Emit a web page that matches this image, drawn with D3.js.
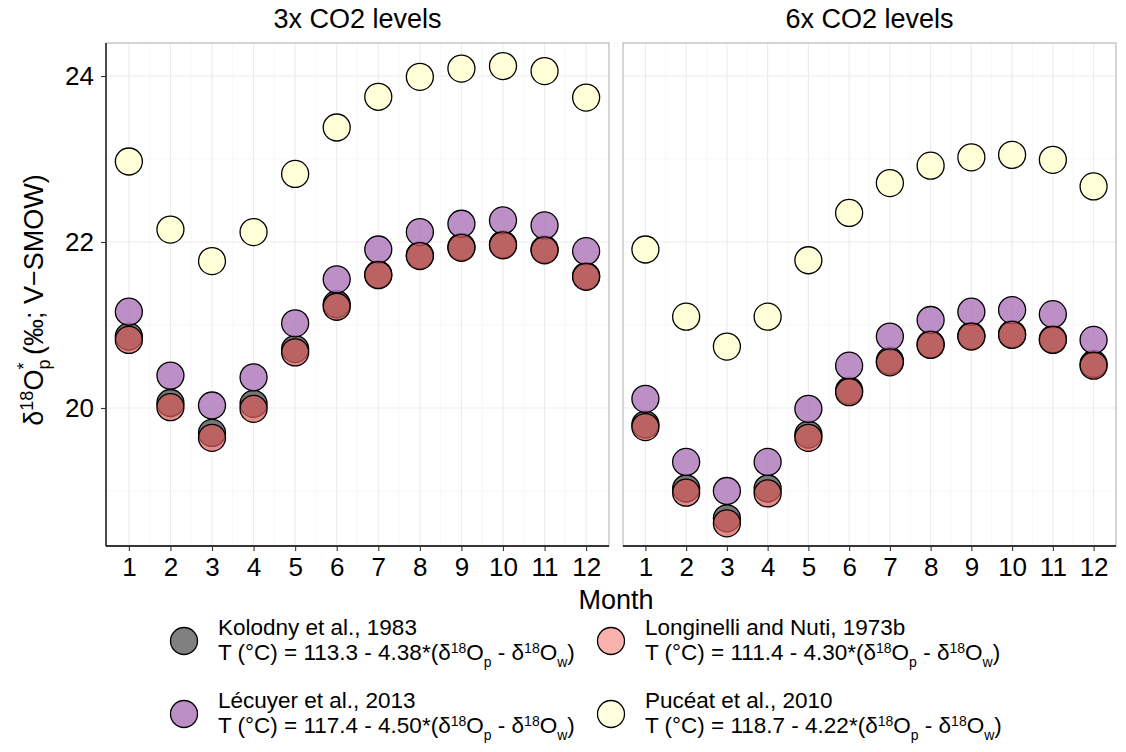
<!DOCTYPE html>
<html>
<head>
<meta charset="utf-8">
<script src="https://cdn.jsdelivr.net/npm/d3@7"></script>
<style>
  body { margin: 0; background: #fff; }
  text { font-family: Arial, "Liberation Sans", sans-serif; fill: #000; }
  .grid-major { stroke: #ebebeb; stroke-width: 1.1; }
  .grid-minor { stroke: #f2f2f2; stroke-width: 0.6; }
</style>
</head>
<body>
<svg id="chart" width="1126" height="752"></svg>
<script>
var months = [1, 2, 3, 4, 5, 6, 7, 8, 9, 10, 11, 12]
var panels = ["3x CO2 levels", "6x CO2 levels"]
var yTicks = [20, 22, 24]
var yMinor = [19, 21, 23]

var kolodny3    = [20.86, 20.06, 19.70, 20.05, 20.71, 21.25, 21.61, 21.84, 21.94, 21.97, 21.91, 21.59]
var lecuyer3    = [21.16, 20.39, 20.03, 20.37, 21.02, 21.55, 21.91, 22.12, 22.22, 22.26, 22.20, 21.89]
var longinelli3 = [20.82, 20.01, 19.64, 19.99, 20.67, 21.22, 21.60, 21.83, 21.93, 21.96, 21.90, 21.58]
var puceat3     = [22.97, 22.15, 21.77, 22.12, 22.82, 23.38, 23.75, 23.99, 24.09, 24.12, 24.06, 23.74]

var kolodny6    = [19.80, 19.03, 18.67, 19.03, 19.68, 20.21, 20.57, 20.77, 20.87, 20.89, 20.83, 20.53]
var lecuyer6    = [20.11, 19.35, 19.00, 19.35, 19.99, 20.51, 20.86, 21.06, 21.16, 21.18, 21.13, 20.82]
var longinelli6 = [19.77, 18.98, 18.61, 18.97, 19.64, 20.19, 20.55, 20.76, 20.86, 20.88, 20.82, 20.51]
var puceat6     = [21.91, 21.10, 20.74, 21.10, 21.78, 22.35, 22.71, 22.92, 23.02, 23.05, 22.99, 22.67]

var seriesNames = ["Kolodny et al., 1983", "Lécuyer et al., 2013", "Longinelli and Nuti, 1973b", "Pucéat et al., 2010"]
var seriesEq = [["113.3", "4.38"], ["117.4", "4.50"], ["111.4", "4.30"], ["118.7", "4.22"]]
var seriesData = [[kolodny3, kolodny6], [lecuyer3, lecuyer6], [longinelli3, longinelli6], [puceat3, puceat6]]
// plot fill / opacity, and the lighter key colour shown in the legend
var seriesFill = ["#5f5f5f", "#b07cbc", "#d95a5a", "#ffffd8"]
var seriesOpacity = [0.85, 0.85, 0.7, 1]
var seriesKey = ["#808080", "#bb8fc5", "#f9b1ae", "#ffffe0"]

var svg = d3.select("#chart")
var ptR = 13.5
var plotTop = 43, plotBottom = 546
var panelX = [[106, 609], [623, 1116]]

var y = d3.scaleLinear().domain([18.337, 24.398]).range([plotBottom, plotTop])

panels.forEach(function (title, pi) {
  var x = d3.scaleLinear().domain([0.45, 12.55]).range(panelX[pi])
  var g = svg.append("g")

  g.selectAll(".xminor").data(d3.range(1.5, 12.5, 1)).join("line")
    .attr("class", "grid-minor")
    .attr("x1", d => x(d)).attr("x2", d => x(d)).attr("y1", plotTop).attr("y2", plotBottom)
  g.selectAll(".yminor").data(yMinor).join("line")
    .attr("class", "grid-minor")
    .attr("x1", panelX[pi][0]).attr("x2", panelX[pi][1]).attr("y1", d => y(d)).attr("y2", d => y(d))
  g.selectAll(".xmajor").data(months).join("line")
    .attr("class", "grid-major")
    .attr("x1", d => x(d)).attr("x2", d => x(d)).attr("y1", plotTop).attr("y2", plotBottom)
  g.selectAll(".ymajor").data(yTicks).join("line")
    .attr("class", "grid-major")
    .attr("x1", panelX[pi][0]).attr("x2", panelX[pi][1]).attr("y1", d => y(d)).attr("y2", d => y(d))

  g.append("rect")
    .attr("x", panelX[pi][0]).attr("y", plotTop)
    .attr("width", panelX[pi][1] - panelX[pi][0]).attr("height", plotBottom - plotTop)
    .attr("fill", "none").attr("stroke", "#b3b3b3").attr("stroke-width", 1.1)

  seriesData.forEach(function (sd, si) {
    g.append("g").selectAll("circle")
      .data(months.map((m, i) => ({ m: m, v: sd[pi][i] })))
      .join("circle")
      .attr("cx", d => x(d.m))
      .attr("cy", d => y(d.v))
      .attr("r", ptR)
      .attr("fill", seriesFill[si])
      .attr("fill-opacity", seriesOpacity[si])
      .attr("stroke", "#000")
      .attr("stroke-width", 1.3)
  })

  var xAxis = g.append("g")
    .attr("transform", "translate(0," + plotBottom + ")")
    .call(d3.axisBottom(x).tickValues(months).tickFormat(d3.format("d")).tickSize(5).tickSizeOuter(0))
  xAxis.select(".domain").attr("d", "M" + panelX[pi][0] + ",0H" + panelX[pi][1]).attr("stroke", "#000").attr("stroke-width", 1.3)
  xAxis.selectAll(".tick line").attr("stroke", "#333").attr("stroke-width", 1.1)
  xAxis.selectAll(".tick text").attr("font-size", 26).attr("font-family", "Arial, 'Liberation Sans', sans-serif").attr("fill", "#000").attr("dy", "0.85em")

  if (pi == 0) {
    var yAxis = g.append("g")
      .attr("transform", "translate(" + panelX[0][0] + ",0)")
      .call(d3.axisLeft(y).tickValues(yTicks).tickFormat(d3.format("d")).tickSize(5).tickSizeOuter(0))
    yAxis.select(".domain").attr("d", "M0," + plotTop + "V" + plotBottom).attr("stroke", "#000").attr("stroke-width", 1.3)
    yAxis.selectAll(".tick line").attr("stroke", "#333").attr("stroke-width", 1.1)
    yAxis.selectAll(".tick text").attr("font-size", 26).attr("font-family", "Arial, 'Liberation Sans', sans-serif").attr("fill", "#000").attr("x", -12)
  }

  g.append("text")
    .attr("x", (panelX[pi][0] + panelX[pi][1]) / 2)
    .attr("y", 28)
    .attr("text-anchor", "middle")
    .attr("font-size", 27)
    .text(title)
})

svg.append("text")
  .attr("x", 616).attr("y", 609)
  .attr("text-anchor", "middle")
  .attr("font-size", 27)
  .text("Month")

var yt = svg.append("text")
  .attr("transform", "translate(43,300) rotate(-90)")
  .attr("text-anchor", "middle")
  .attr("font-size", 27)
yt.append("tspan").text("δ")
yt.append("tspan").attr("dy", -10).attr("font-size", 18).text("18")
yt.append("tspan").attr("dy", 10).text("O")
yt.append("tspan").attr("dy", 7).attr("font-size", 18).text("p")
yt.append("tspan").attr("dx", -10).attr("dy", -20).attr("font-size", 18).text("*")
yt.append("tspan").attr("dy", 13).text(" (‰; V−SMOW)")

// legend: 2 columns x 2 rows, ordered by column
var legPos = [[184, 641], [184, 714], [611, 641], [611, 714]]
var leg = svg.append("g")
seriesNames.forEach(function (name, si) {
  var p = legPos[si]
  leg.append("circle")
    .attr("cx", p[0]).attr("cy", p[1]).attr("r", ptR)
    .attr("fill", seriesKey[si]).attr("stroke", "#000").attr("stroke-width", 1.3)
  leg.append("text")
    .attr("x", p[0] + 34).attr("y", p[1] - 6)
    .attr("font-size", 22.5)
    .text(name)
  var t = leg.append("text")
    .attr("x", p[0] + 34).attr("y", p[1] + 19)
    .attr("font-size", 22.5)
  t.append("tspan").text("T (°C) = " + seriesEq[si][0] + " - " + seriesEq[si][1] + "*(δ")
  t.append("tspan").attr("dy", -7).attr("font-size", 14).text("18")
  t.append("tspan").attr("dy", 7).text("O")
  t.append("tspan").attr("dy", 7).attr("font-size", 14).text("p")
  t.append("tspan").attr("dy", -7).text("\u00a0- δ")
  t.append("tspan").attr("dy", -7).attr("font-size", 14).text("18")
  t.append("tspan").attr("dy", 7).text("O")
  t.append("tspan").attr("dy", 7).attr("font-size", 14).text("w")
  t.append("tspan").attr("dy", -7).text(")")
})
</script>
</body>
</html>
